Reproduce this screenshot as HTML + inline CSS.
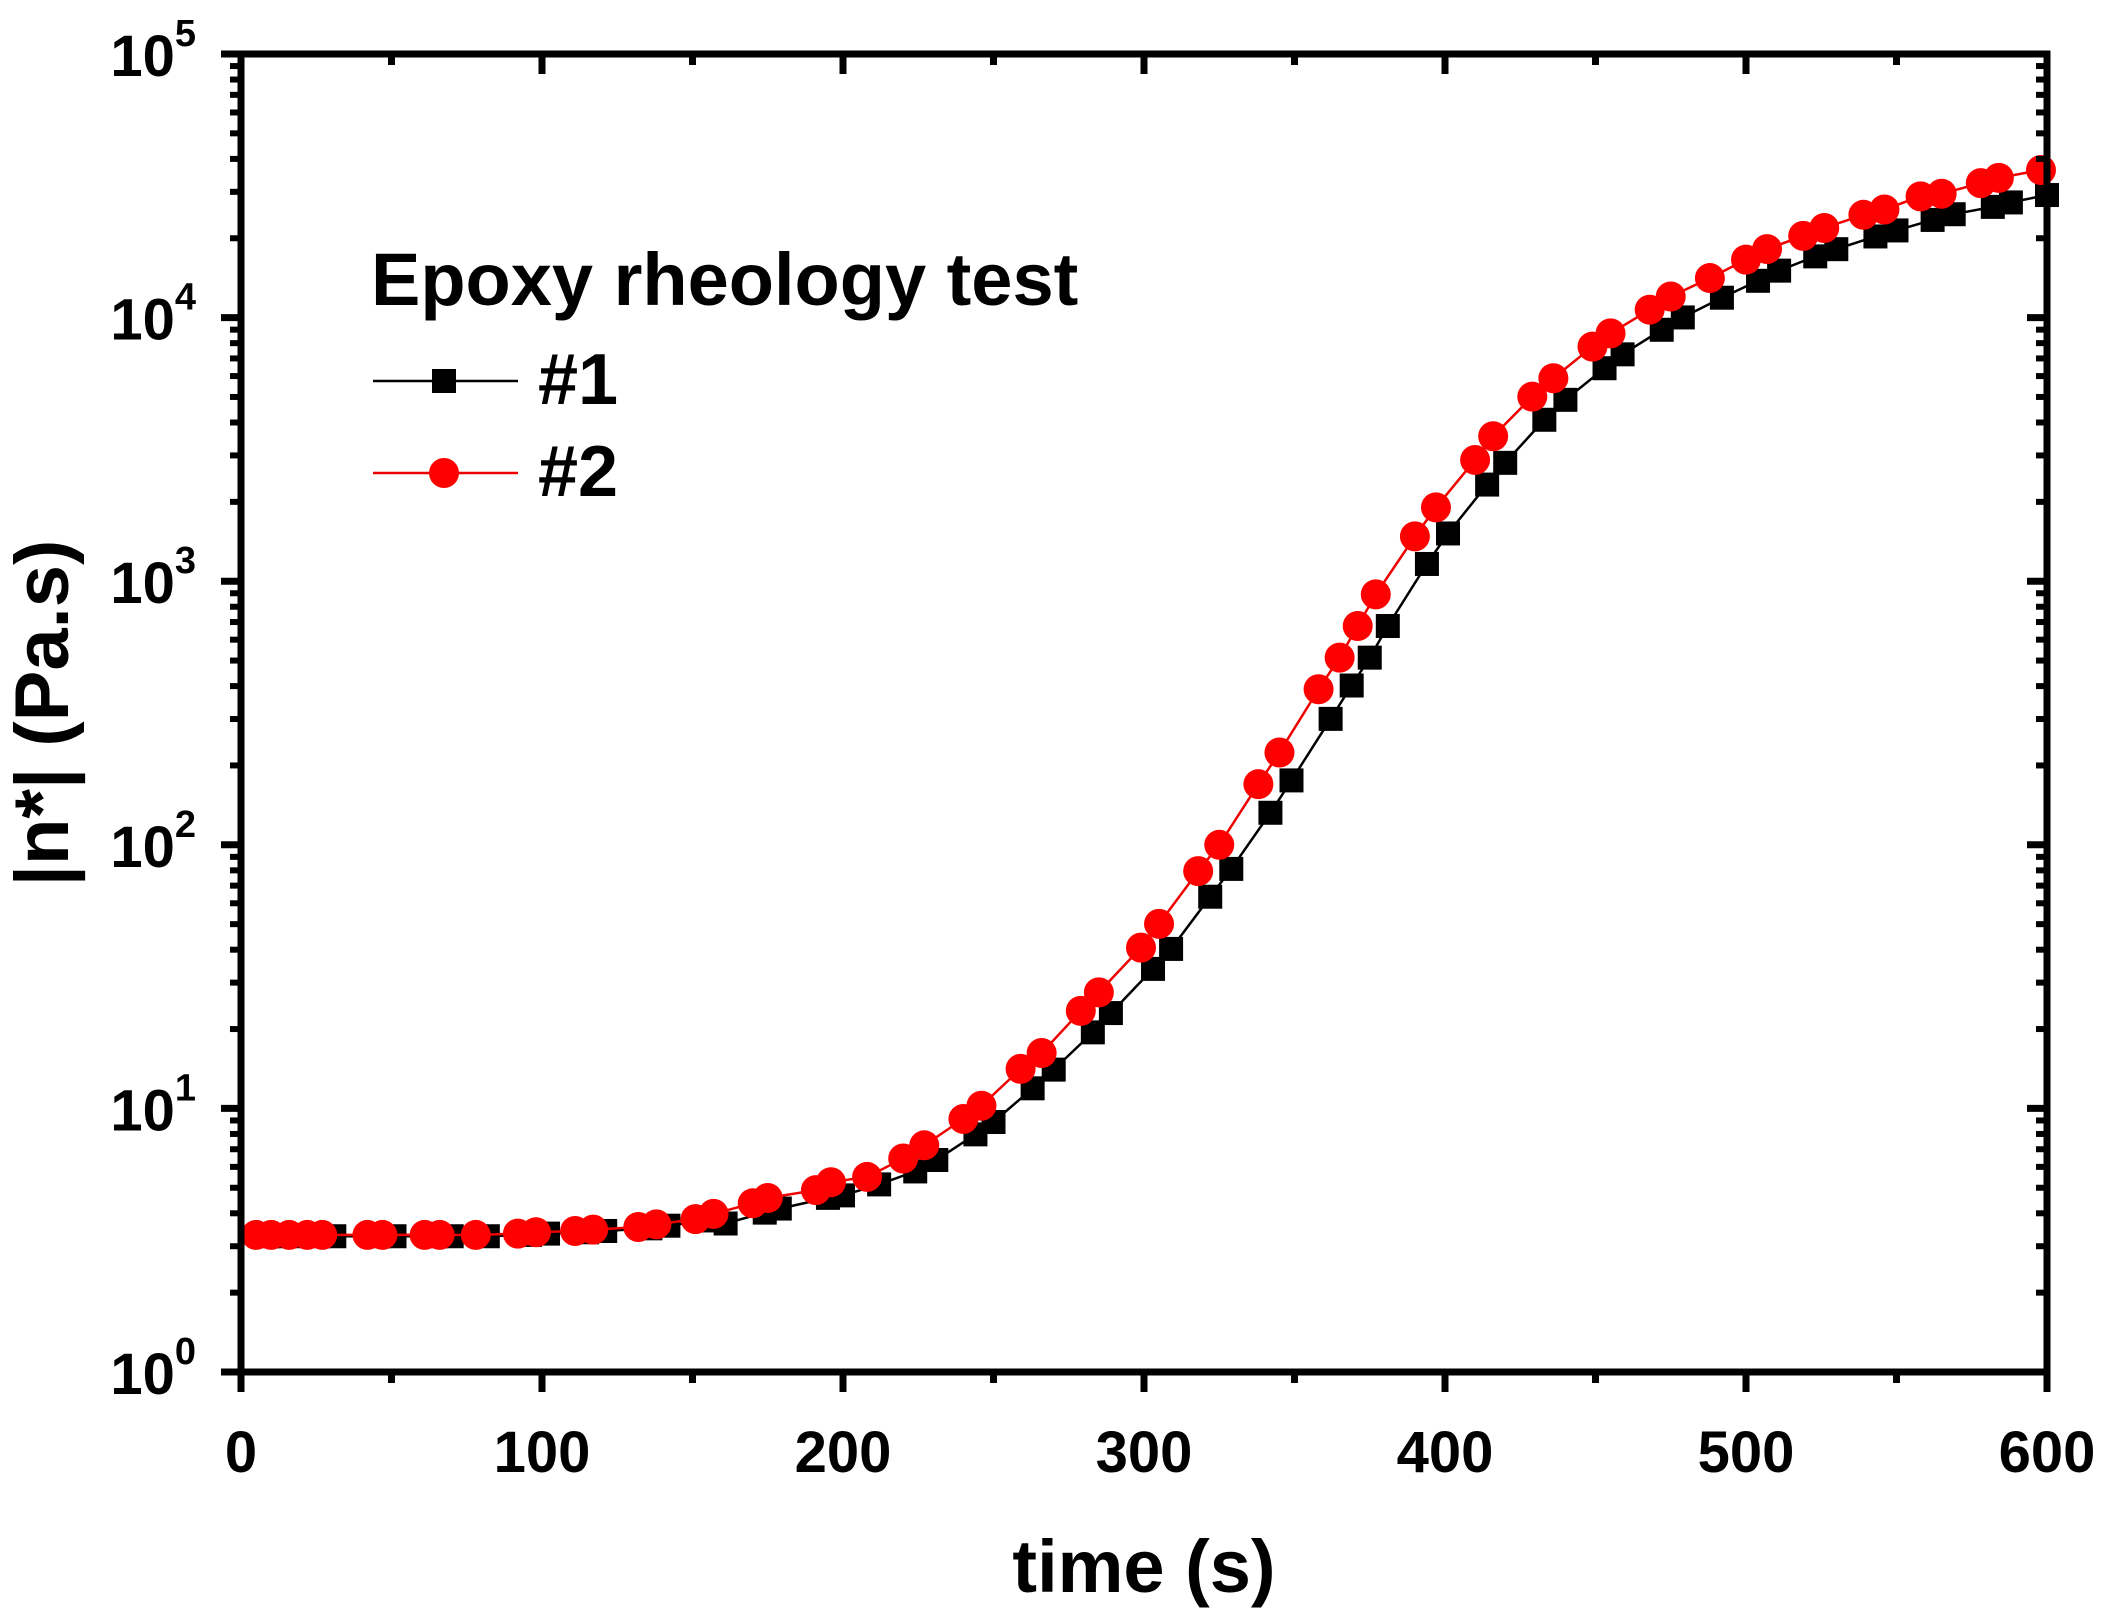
<!DOCTYPE html>
<html><head><meta charset="utf-8"><style>
html,body{margin:0;padding:0;background:#fff;}
svg{display:block;}
text{font-family:"Liberation Sans",Arial,sans-serif;font-weight:bold;fill:#000;}
</style></head><body>
<svg id="s" width="2109" height="1623" viewBox="0 0 2109 1623" xmlns="http://www.w3.org/2000/svg">
<g id="data"></g>
<g id="axes"></g>
<g font-size="58">
<text x="241" y="1472" text-anchor="middle">0</text>
<text x="542" y="1472" text-anchor="middle">100</text>
<text x="843" y="1472" text-anchor="middle">200</text>
<text x="1144" y="1472" text-anchor="middle">300</text>
<text x="1445" y="1472" text-anchor="middle">400</text>
<text x="1746" y="1472" text-anchor="middle">500</text>
<text x="2047" y="1472" text-anchor="middle">600</text>
</g>
<g id="ylab" font-size="58"></g>
<text x="1144" y="1592" font-size="74" text-anchor="middle">time (s)</text>
<text transform="translate(68,713) rotate(-90)" font-size="76" text-anchor="middle">|n*| (Pa.s)</text>
<text x="371" y="305" font-size="74">Epoxy rheology test</text>
<line x1="373" y1="381" x2="518" y2="381" stroke="#000" stroke-width="2.5"/>
<rect x="432" y="369" width="24" height="24" fill="#000"/>
<text x="538" y="404" font-size="72">#1</text>
<line x1="373" y1="473" x2="518" y2="473" stroke="#e00" stroke-width="2.5"/>
<circle cx="444" cy="473" r="15" fill="#f00"/>
<text x="538" y="496" font-size="72">#2</text>
</svg>
<script>
var X=function(t){return 241+t*3.01;},Y=function(l){return 1372-l*263.6;};
var red=[[5,.52],[10,.52],[16,.52],[22,.52],[27,.52],[42,.52],[47,.52],[61,.52],[66,.52],[78,.52],[92,.525],[98,.53],[111,.535],[117,.54],[132,.55],[138,.56],[151,.58],[157,.6],[170,.64],[175,.66],[191,.69],[196,.72],[208,.74],[220,.81],[227,.86],[240,.96],[246,1.01],[259,1.15],[266,1.21],[279,1.37],[285,1.44],[299,1.61],[305,1.70],[318,1.90],[325,2.0],[338,2.23],[345,2.35],[358,2.59],[365,2.71],[371,2.83],[377,2.95],[390,3.17],[397,3.28],[410,3.46],[416,3.55],[429,3.70],[436,3.77],[449,3.89],[455,3.94],[468,4.03],[475,4.08],[488,4.15],[500,4.22],[507,4.26],[519,4.31],[526,4.34],[539,4.39],[546,4.41],[558,4.46],[565,4.47],[578,4.51],[584,4.53],[598,4.56]];
function rl(t){if(t<=red[0][0])return red[0][1];for(var i=1;i<red.length;i++){if(t<=red[i][0]){var a=red[i-1],b=red[i];return a[1]+(b[1]-a[1])*(t-a[0])/(b[0]-a[0]);}}return 4.57;}
var blk=[];red.forEach(function(p){var t=Math.min(p[0]+4,600);var off=t<400?0.02:0.02+0.06*(t-400)/200;var l=t<160?p[1]-0.005:rl(t-9)-off;blk.push([t,l]);});
var g=document.getElementById('data'),h='';
function path(arr,c){return '<polyline fill="none" stroke="'+c+'" stroke-width="2.5" points="'+arr.map(function(p){return X(p[0]).toFixed(1)+','+Y(p[1]).toFixed(1)}).join(' ')+'"/>';}
h+=path(blk,'#000');
blk.forEach(function(p){h+='<rect x="'+(X(p[0])-12)+'" y="'+(Y(p[1])-12)+'" width="24" height="24" fill="#000"/>';});
h+=path(red,'#e00');
red.forEach(function(p){h+='<circle cx="'+X(p[0])+'" cy="'+Y(p[1])+'" r="15" fill="#f00"/>';});
g.innerHTML=h;
var a='<rect x="241" y="54" width="1806" height="1318" fill="none" stroke="#000" stroke-width="7"/>';
for(var t=0;t<=600;t+=50){var x=X(t),L=(t%100==0)?20:11;
a+='<line x1="'+x+'" y1="1372" x2="'+x+'" y2="'+(1372+L)+'" stroke="#000" stroke-width="7"/>';
a+='<line x1="'+x+'" y1="54" x2="'+x+'" y2="'+(54+L)+'" stroke="#000" stroke-width="7"/>';}
var yl='';
for(var d=0;d<=5;d++){var y=Y(d);
a+='<line x1="221" y1="'+y+'" x2="241" y2="'+y+'" stroke="#000" stroke-width="7"/>';
a+='<line x1="2027" y1="'+y+'" x2="2047" y2="'+y+'" stroke="#000" stroke-width="7"/>';
yl+='<text x="196" y="'+(y+22)+'" text-anchor="end">10<tspan font-size="38" dy="-30">'+d+'</tspan></text>';
if(d<5)for(var m=2;m<10;m++){var yy=Y(d+Math.log10(m));
a+='<line x1="230" y1="'+yy+'" x2="241" y2="'+yy+'" stroke="#000" stroke-width="6"/>';
a+='<line x1="2036" y1="'+yy+'" x2="2047" y2="'+yy+'" stroke="#000" stroke-width="6"/>';}}
document.getElementById('axes').innerHTML=a;
document.getElementById('ylab').innerHTML=yl;
</script>
</body></html>
